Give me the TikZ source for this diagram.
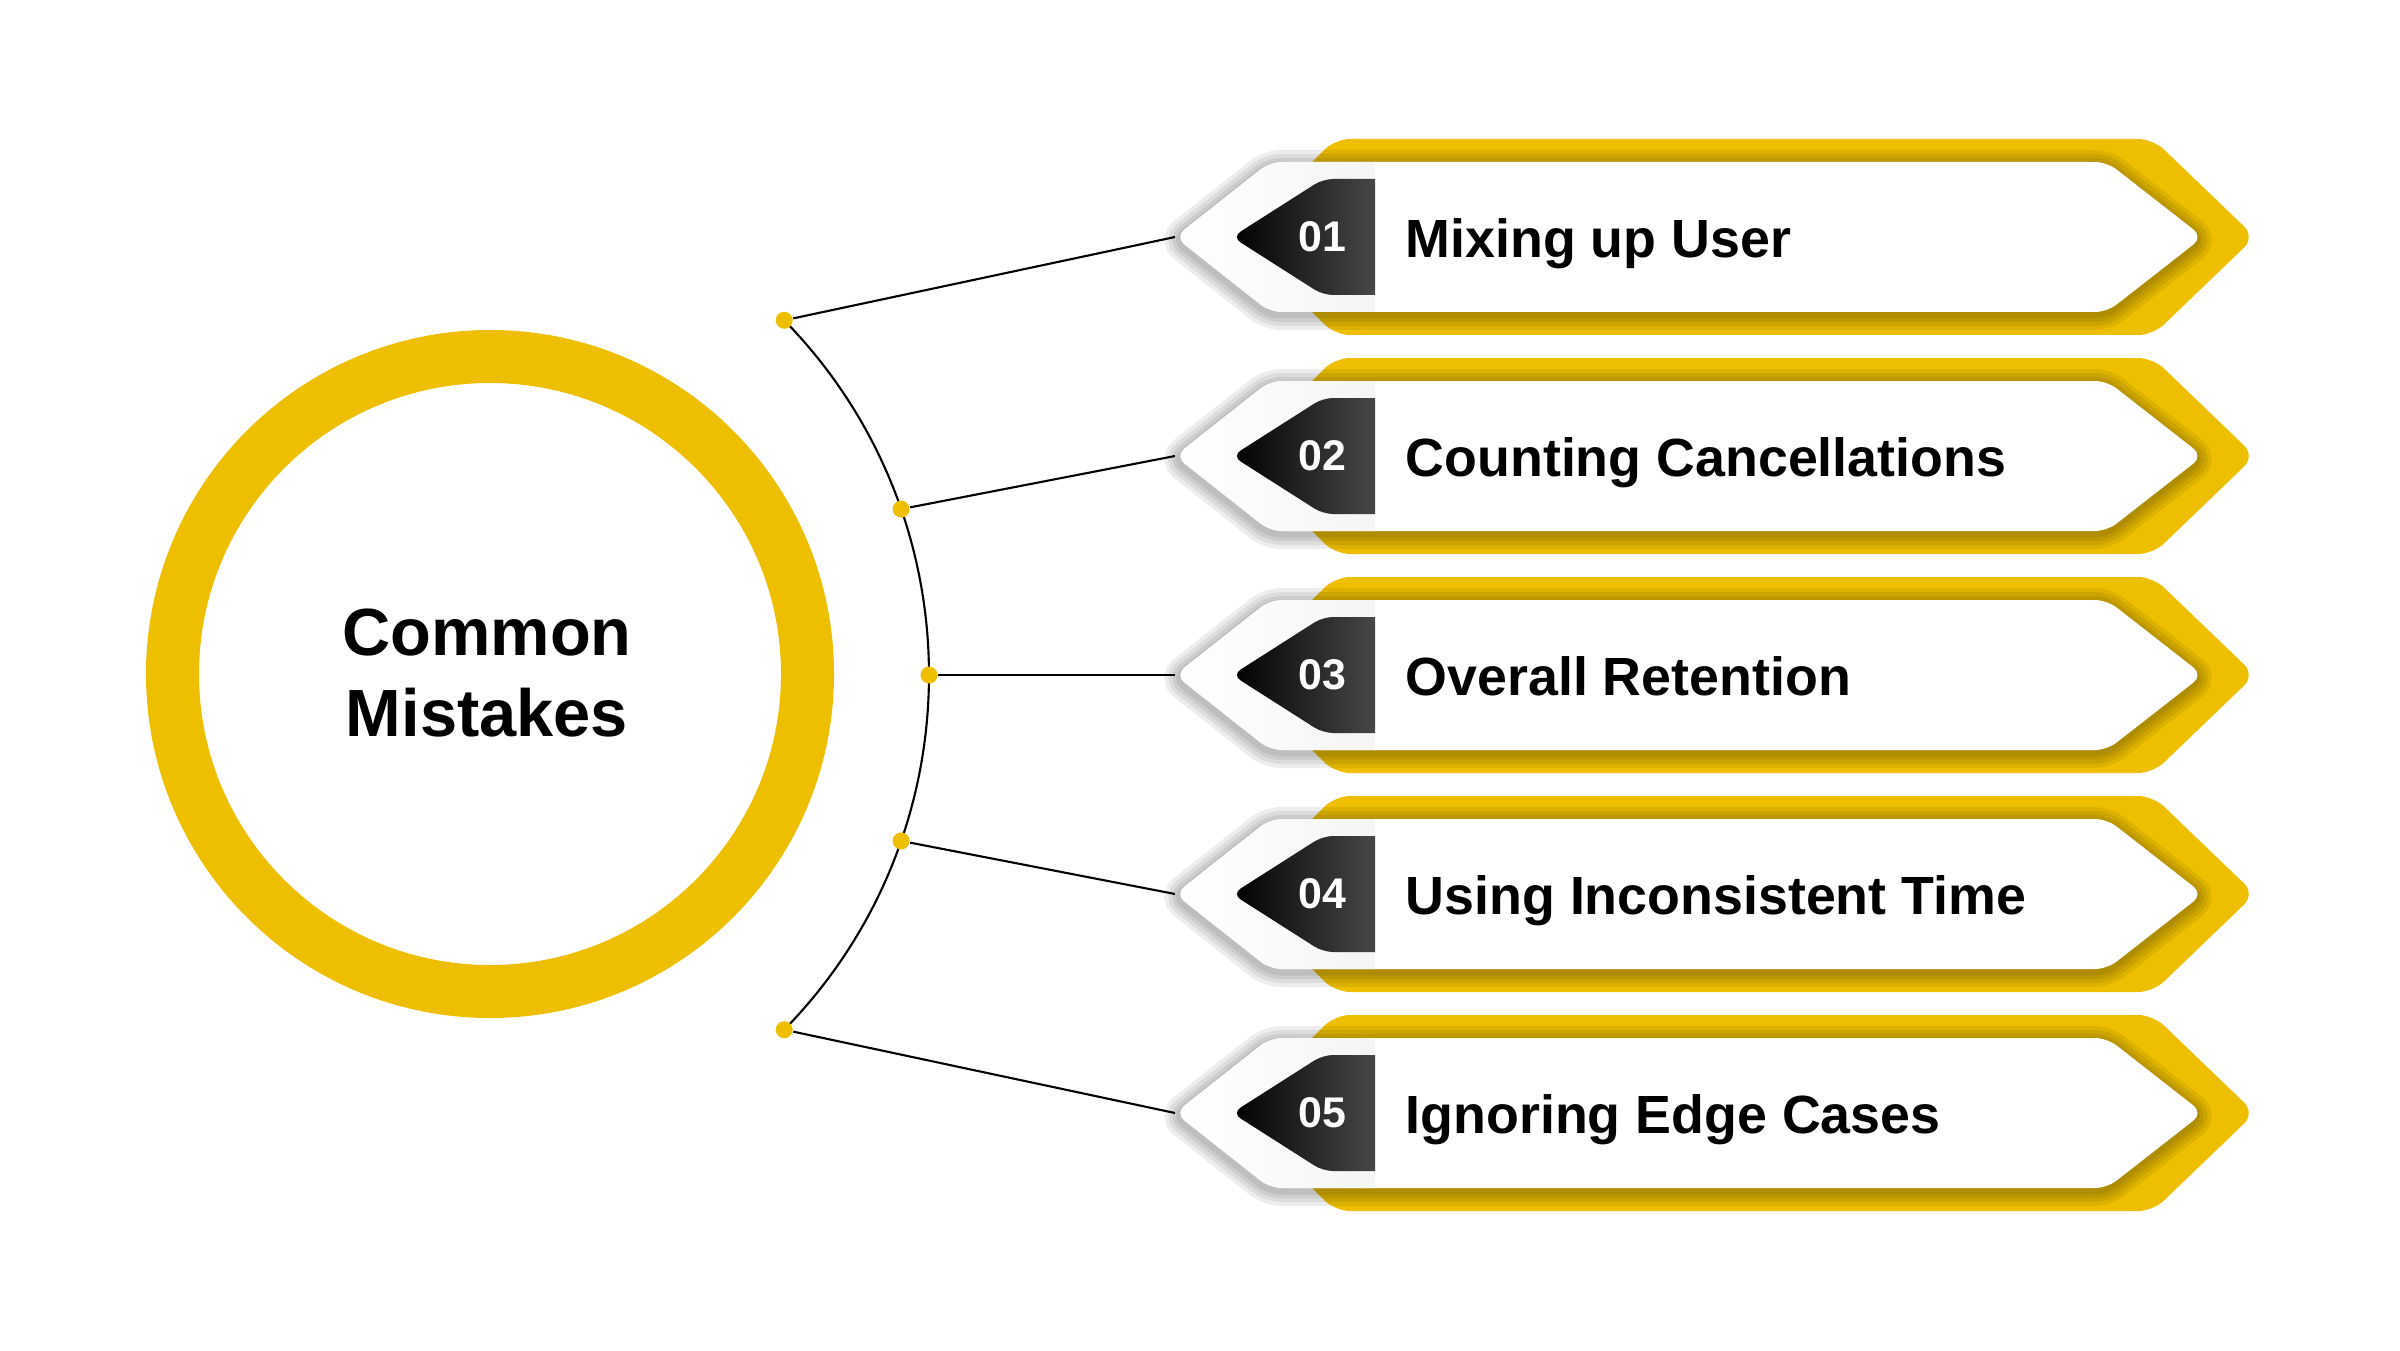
\documentclass[tikz,border=0pt]{standalone}
\usepackage{fontspec}
\setmainfont{Liberation Sans}
\usetikzlibrary{positioning}

\definecolor{markyellow}{HTML}{EDBF00}

\tikzset{
  yellowhex/.style={insert path={(0.62,0) -- (1.60,0.98) -- (9.78,0.98) -- (10.80,0) -- (9.78,-0.98) -- (1.60,-0.98) -- cycle}},
  whitehex/.style={insert path={(0,0) -- (0.95,0.75) -- (9.32,0.75) -- (10.28,0) -- (9.32,-0.75) -- (0.95,-0.75) -- cycle}},
  taghex/.style={insert path={(2.00,-0.58) -- (2.00,0.58) [rounded corners=0.1cm] -- (1.48,0.58) -- (0.57,0) -- (1.48,-0.58) [sharp corners] -- (2.00,-0.58) -- cycle}},
  dot/.style={circle, fill=markyellow, inner sep=0pt, minimum size=0.17cm},
  connector/.style={black, line width=0.6pt},
  numlabel/.style={text=white, font=\fontsize{12.2}{14}\selectfont\bfseries, inner sep=0pt},
  itemlabel/.style={font=\fontsize{15.3}{18}\selectfont\bfseries, inner sep=0pt, anchor=base west},
}

\newcommand\banner[3]{
  \fill[markyellow, rounded corners=0.15cm, yellowhex];
  \foreach \w in {0.30,0.22,0.14,0.07}
    \draw[black, opacity=0.07, line width=\w cm, rounded corners=0.12cm, xshift=-0.01cm, yshift=-0.03cm, whitehex];
  \fill[white, rounded corners=0.12cm, whitehex];
  \begin{scope}
    \clip[rounded corners=0.12cm, whitehex];
    \shade[left color=white, right color=black!4] (0,-0.8) rectangle (2.00,0.8);
  \end{scope}
  \shade[left color=black, right color=black!72, taghex];
  \node[numlabel] (num#1) at (1.47,0) {#2};
  \node[itemlabel] (item#1) at (2.30,-0.205) {#3};
  \coordinate (tip#1) at (0,0);
}

\begin{document}
\begin{tikzpicture}
  \useasboundingbox (0,0) rectangle (24,13.5);

  % centre ring
  \draw[markyellow, line width=0.53cm] (4.90,6.76) circle[radius=3.175];
  \node[align=center, font=\fontsize{19}{23}\selectfont\bfseries] (title) at (4.87,6.77) {Common\\Mistakes};

  % banners
  \foreach \num/\name [count=\i] in {01/Mixing up User, 02/Counting Cancellations, 03/Overall Retention, 04/Using Inconsistent Time, 05/Ignoring Edge Cases} {
    \begin{scope}[shift={(11.75,{13.32-2.19*\i})}]
      \banner{\i}{\num}{\name}
    \end{scope}
  }

  % hub arc and dots
  \begin{scope}[shift={(4.22,6.75)}]
    \draw[connector] (44.4:5.07) arc[start angle=44.4, end angle=-44.4, radius=5.07];
    \foreach \a [count=\i] in {44.4,19.1,0,-19.1,-44.4}
      \node[dot] (dot\i) at (\a:5.07) {};
  \end{scope}

  \foreach \i in {1,...,5}
    \draw[connector] (dot\i) -- (tip\i);

\end{tikzpicture}
\end{document}
